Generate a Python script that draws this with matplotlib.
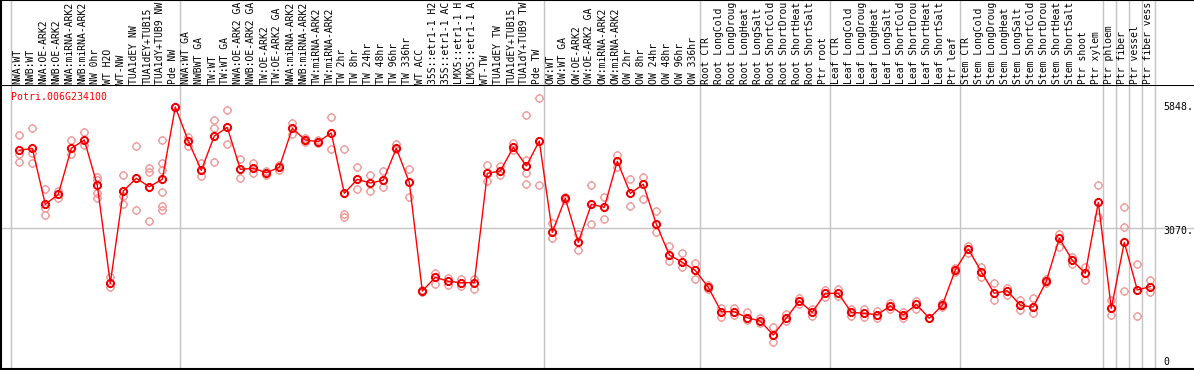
import matplotlib
matplotlib.use("Agg")
import matplotlib.pyplot as plt
import matplotlib.transforms as mtransforms
from matplotlib.path import Path
import numpy as np

gene = "Potri.006G234100"

categories = [
    "NWA:WT", "NWB:WT", "NWA:OE-ARK2", "NWB:OE-ARK2", "NWA:miRNA-ARK2", "NWB:miRNA-ARK2",
    "NW 0hr", "WT H2O", "WT-NW", "TUA1dEY NW", "TUA1dEY+TUB15", "TUA1dY+TUB9 NW", "Pde NW",
    "NWA:WT GA", "NWBWT GA", "TW:WT", "TW:WT GA", "NWA:OE-ARK2 GA", "NWB:OE-ARK2 GA",
    "TW:OE-ARK2", "TW:OE-ARK2 GA", "NWA:miRNA-ARK2", "NWB:miRNA-ARK2", "TW:miRNA-ARK2",
    "TW:miRNA-ARK2", "TW 2hr", "TW 8hr", "TW 24hr", "TW 48hr", "TW 96hr", "TW 336hr",
    "WT ACC", "35S::etr1-1 H2", "35S::etr1-1 AC", "LMX5::etr1-1 H", "LMX5::etr1-1 A",
    "WT-TW", "TUA1dEY TW", "TUA1dEY+TUB15", "TUA1dY+TUB9 TW", "Pde TW",
    "OW:WT", "OW:WT GA", "OW:OE-ARK2", "OW:OE-ARK2 GA", "OW:miRNA-ARK2", "OW:miRNA-ARK2",
    "OW 2hr", "OW 8hr", "OW 24hr", "OW 48hr", "OW 96hr", "OW 336hr",
    "Root CTR", "Root LongCold", "Root LongDroug", "Root LongHeat", "Root LongSalt",
    "Root ShortCold", "Root ShortDrou", "Root ShortHeat", "Root ShortSalt", "Ptr root",
    "Leaf CTR", "Leaf LongCold", "Leaf LongDroug", "Leaf LongHeat", "Leaf LongSalt",
    "Leaf ShortCold", "Leaf ShortDrou", "Leaf ShortHeat", "Leaf ShortSalt", "Ptr leaf",
    "Stem CTR", "Stem LongCold", "Stem LongDroug", "Stem LongHeat", "Stem LongSalt",
    "Stem ShortCold", "Stem ShortDrou", "Stem ShortHeat", "Stem ShortSalt", "Ptr shoot",
    "Ptr xylem", "Ptr phloem", "Ptr fiber", "Ptr vessel", "Ptr fiber vess",
]

means = [
    4854, 4899, 3614, 3843, 4899, 5090, 4050, 1800, 3919, 4211, 4018, 4188, 5848,
    5067, 4394, 5182, 5381, 4417, 4440, 4339, 4463, 5358, 5090, 5051, 5251,
    3866, 4188, 4103, 4165, 4899, 4119, 1623, 1938, 1846, 1814, 1814,
    4325, 4378, 4922, 4493, 5067,
    2971, 3751, 2741, 3614, 3545, 4601, 3866, 4073, 3161, 2450, 2282, 2098,
    1708, 1148, 1148, 1010, 934, 613, 1003, 1394, 1134, 1570,
    1570, 1134, 1111, 1079, 1279, 1072, 1318, 996, 1295, 2105,
    2587, 2066, 1570, 1630, 1295, 1256, 1846, 2833, 2328, 2029, 3660,
    1226, 2741, 1646, 1726,
]

replicates = [
    [5198, 4768, 4578], [5365, 4785, 4555], [3958, 3522, 3361], [3919, 3751],
    [5083, 4768], [5267, 4975], [4247, 4172, 3866, 3751], [1951, 1722],
    [4279, 3804, 3627], [4952, 3476], [4454, 4362, 3230],
    [5083, 4569, 4401, 3889, 3575, 3483], [5848, 5848],
    [5166, 4952], [4555, 4270], [5549, 5372, 4578], [5772, 4998], [4647, 4211],
    [4555, 4339], [4385, 4286], [4523, 4401], [5487, 5234], [5136, 5044],
    [5090, 5014], [5618, 4876], [4876, 3391, 3329], [4463, 3965], [4286, 3912],
    [4378, 4004], [4991, 4876], [4417, 3788], [1650, 1600], [2043, 1777],
    [1928, 1761], [1906, 1738], [1892, 1662], [4516, 4155], [4493, 4286],
    [5028, 4860], [5664, 4631, 4325, 4073], [6047, 4050],
    [3177, 2833], [3788, 3714], [2932, 2558], [4050, 3154], [3788, 3269],
    [4745, 4477], [4188, 3568], [4247, 3735], [3453, 2985], [2656, 2319],
    [2489, 2181], [2259, 1906],
    [1761, 1680], [1226, 1019], [1226, 1072], [1148, 957], [996, 888],
    [790, 445], [1095, 934], [1469, 1325], [1210, 1056], [1492, 1646],
    [1669, 1508], [1210, 1056], [1217, 1033], [1164, 996], [1348, 1210],
    [1141, 996], [1400, 1210], [996, 996], [1348, 1249], [2151, 2059],
    [2656, 2502], [2181, 1951], [1800, 1417], [1685, 1531], [1417, 1187],
    [1456, 1111], [1899, 1807], [2925, 2640], [2411, 2236], [2181, 1876],
    [4050, 3329],
    [1423, 1065], [3552, 3099, 1623], [2243, 1042], [1887, 1593],
]

group_breaks = [0, 13, 41, 53, 63, 73, 84, 85, 86, 87, 88]
y_ticks = [5848, 3070, 0]
y_tick_labels = ["5848.", "3070.", "0"]

# ---------------------------------------------------------------- layout
W, H = 1194, 370
fig = plt.figure(figsize=(W / 100, H / 100), dpi=100)
fig.patch.set_facecolor("white")

top_px, bot_px = 85, 369
ax = fig.add_axes([1 / W, (H - bot_px) / H, 1 - 1 / W, (bot_px - top_px) / H])
axh = fig.add_axes([1 / W, (H - top_px) / H, 1 - 1 / W, top_px / H])

x0_px, step_px = 19.3, 13.0
xlim = ((1 - x0_px) / step_px, (W - x0_px) / step_px)
for a in (ax, axh):
    a.set_xlim(*xlim)
    a.set_xticks([])
    a.set_yticks([])
    a.set_facecolor("white")

# y scale: 0 at px 361.7, 5848 at px 107
ppu = (361.72 - 107) / 5848.0
ax.set_ylim((361.72 - bot_px) / ppu, (361.72 - top_px) / ppu)
axh.set_ylim(top_px, 0)

for a in (ax, axh):
    for s in a.spines.values():
        s.set_visible(False)
ax.spines["left"].set_visible(True)
ax.spines["bottom"].set_visible(True)
ax.spines["top"].set_visible(True)
axh.spines["left"].set_visible(True)
axh.spines["top"].set_visible(True)
for a in (ax, axh):
    for s in a.spines.values():
        s.set_color("black")
        s.set_linewidth(1.5)

grid_c = "#c4c4c4"
for b in group_breaks:
    for a in (ax, axh):
        a.axvline(b - 0.64, color=grid_c, lw=1.0, zorder=0.5)
ax.axhline(3070, color=grid_c, lw=1.0, zorder=0.5)

# header labels
mono = "DejaVu Sans Mono"
for i, lab in enumerate(categories):
    axh.text(i - 0.15, 83.5, lab, rotation=90, ha="center", va="bottom",
             fontsize=7.0, family=mono, color="black", clip_on=True)

# marker: circle with small ticks
circ = Path.unit_circle()
tick_len = 1.3
ticks = [Path([(0, 1), (0, tick_len)], [Path.MOVETO, Path.LINETO]),
         Path([(0, -1), (0, -tick_len)], [Path.MOVETO, Path.LINETO]),
         Path([(1, 0), (tick_len, 0)], [Path.MOVETO, Path.LINETO]),
         Path([(-1, 0), (-tick_len, 0)], [Path.MOVETO, Path.LINETO])]
sun = Path.make_compound_path(circ, *ticks)

xs = np.arange(len(categories))
rep_x = [i for i, r in enumerate(replicates) for _ in r]
rep_y = [v for r in replicates for v in r]
ax.plot(rep_x, rep_y, linestyle="none", marker=sun, markersize=6.6,
        markerfacecolor="none", markeredgecolor="#ef9c9c", markeredgewidth=1.0,
        zorder=2)
ax.plot(xs, means, color="#ff0000", lw=1.0, zorder=3)
ax.plot(xs, means, linestyle="none", marker=sun, markersize=6.6,
        markerfacecolor="none", markeredgecolor="#ee0000", markeredgewidth=1.4,
        zorder=4)

ax.text(10 / W, 1 - (97 - top_px) / (bot_px - top_px), gene, transform=ax.transAxes,
        ha="left", va="center", fontsize=7.1, family=mono, color="#ff0000")

trans = mtransforms.blended_transform_factory(ax.transAxes, ax.transData)
for v, t in zip(y_ticks, y_tick_labels):
    dy = -3 / ppu if v == 3070 else 0
    ax.text(1163 / W, v + dy, t, transform=trans, ha="left", va="center",
            fontsize=7.1, family=mono, color="black", zorder=5)

fig.savefig("out.png", dpi=100, facecolor="white")
